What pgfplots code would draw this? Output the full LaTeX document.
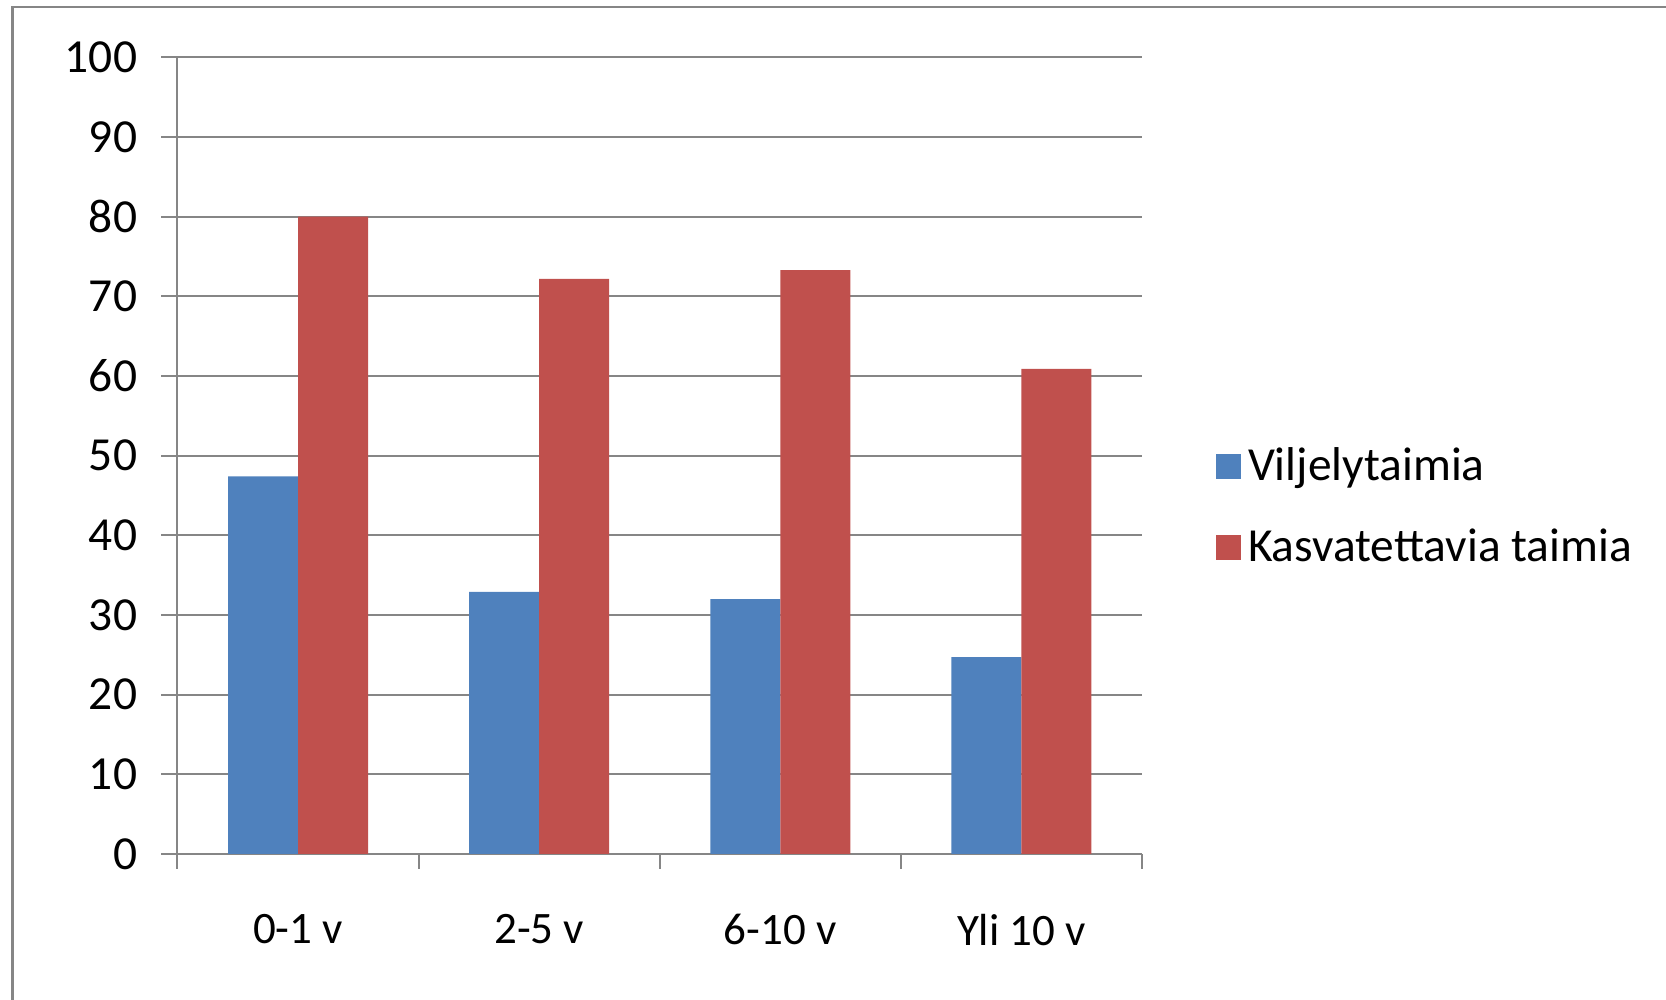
\documentclass[border=0pt]{standalone}
\usepackage{pgfplots}
\pgfplotsset{compat=1.18}
\usepackage{fontspec}
\setmainfont{Carlito}
\definecolor{xblue}{HTML}{4F81BD}
\definecolor{xred}{HTML}{C0504D}
\definecolor{xgrid}{HTML}{868686}
\begin{document}
\begin{tikzpicture}
\useasboundingbox (-17.75mm,-14.6mm) rectangle (148.85mm,85.4mm);
\draw[xgrid, line width=0.28mm] (-16.5mm,-14.6mm) -- (-16.5mm,84.7mm) -- (148.85mm,84.7mm);
\begin{axis}[
  at={(0,0)}, anchor=south west,
  scale only axis, width=96.45mm, height=79.66mm,
  xmin=-0.5, xmax=3.5, ymin=0, ymax=100,
  axis x line*=bottom, axis y line*=left,
  axis line style={xgrid, line width=0.2mm},
  ytick={0,10,...,100},
  ymajorgrids, major grid style={xgrid, line width=0.2mm},
  xtick={0,1,2,3}, xticklabels={0-1 v, 2-5 v, 6-10 v, Yli 10 v},
  minor xtick={-0.5,0.5,1.5,2.5,3.5},
  tick align=outside,
  major tick length=1.6mm, minor tick length=1.5mm,
  major x tick style={draw=none},
  minor x tick style={xgrid, line width=0.2mm},
  ytick style={xgrid, line width=0.2mm},
  /pgf/number format/assume math mode=true,
  tick label style={text=black},
  xticklabel style={font=\fontsize{12.8}{15}\selectfont, yshift=-3.2mm},
  yticklabel style={font=\fontsize{13.5}{16}\selectfont, xshift=-1.2mm},
  legend style={draw=none, fill=none, at={(1.0767,0.4353)}, anchor=west,
    inner sep=0pt, outer sep=0pt, font=\fontsize{13.5}{16}\selectfont, row sep=2.9mm},
  legend cell align=left,
  legend image code/.code={\fill (0mm,-1.25mm) rectangle (2.5mm,1.25mm);},
]
\addplot[ybar, bar width=7mm, bar shift=-3.5mm, fill=xblue, draw=none]
  coordinates {(0,47.4) (1,32.9) (2,32.0) (3,24.7)};
\addlegendentry{Viljelytaimia}
\addplot[ybar, bar width=7mm, bar shift=3.5mm, fill=xred, draw=none]
  coordinates {(0,80.0) (1,72.2) (2,73.3) (3,60.9)};
\addlegendentry{Kasvatettavia taimia}
\end{axis}
\end{tikzpicture}
\end{document}
